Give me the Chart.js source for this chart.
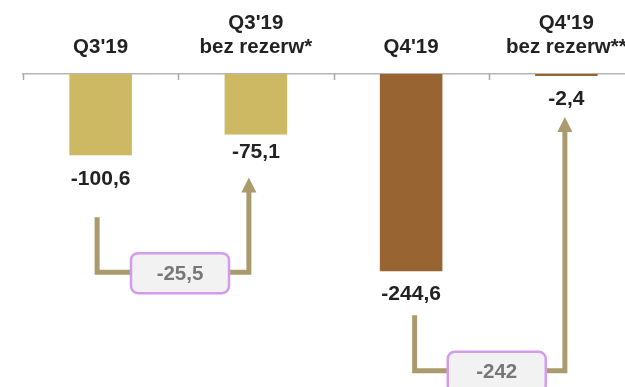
<!DOCTYPE html>
<html>
<head>
<meta charset="utf-8">
<script src="https://cdn.jsdelivr.net/npm/chart.js@4"></script>
<style>
  html, body { margin: 0; padding: 0; overflow: hidden; background: #fff; }
</style>
</head>
<body>
<canvas id="myChart" width="670" height="387"></canvas>
<script>
var labels = [["Q3'19"], ["Q3'19", "bez rezerw*"], ["Q4'19"], ["Q4'19", "bez rezerw**"]];
var values = [-100.6, -75.1, -244.6, -2.4];
var valueText = ["-100,6", "-75,1", "-244,6", "-2,4"];
var barColors = ["#cdb964", "#cdb964", "#986532", "#986532"];

// differences between bars (from -> to)
var bridgeFrom = [0, 2];
var bridgeTo = [1, 3];
var bridgeText = ["-25,5", "-242"];

var FONT = '"Liberation Sans", Arial, Helvetica, sans-serif';

// hand tuned offsets for the connector drawing
var labelGap = [24, 18, 23, 23];
var bridgeStyle = [
  {dx1: -3.5, dx2: -7, start: 62, level: 117, tip: 43},
  {dx1: 3.5, dx2: -1.5, start: 44, level: 99.5, tip: 41}
];

var bridgePlugin = {
  id: 'bridges',
  afterDatasetsDraw: function (chart) {
    var ctx = chart.ctx;
    var area = chart.chartArea;
    var xs = chart.scales.x;
    var meta = chart.getDatasetMeta(0);
    ctx.save();

    // small ticks hanging under the axis
    var half = (xs.getPixelForValue(1) - xs.getPixelForValue(0)) / 2;
    ctx.strokeStyle = "#a8a8a8";
    ctx.lineWidth = 1.5;
    for (var i = 0; i < labels.length; i++) {
      var tx = Math.round(xs.getPixelForValue(i) - half) + 0.5;
      ctx.beginPath();
      ctx.moveTo(tx, area.top);
      ctx.lineTo(tx, area.top + 6);
      ctx.stroke();
    }

    // value labels under bars
    ctx.font = "bold 21px " + FONT;
    ctx.fillStyle = "#222222";
    ctx.textAlign = "center";
    ctx.textBaseline = "middle";
    meta.data.forEach(function (bar, i) {
      ctx.fillText(valueText[i], bar.x, bar.y + labelGap[i]);
    });

    // connectors with arrow + box
    for (var k = 0; k < bridgeFrom.length; k++) {
      var s = bridgeStyle[k];
      var a = meta.data[bridgeFrom[k]];
      var b = meta.data[bridgeTo[k]];
      var x1 = a.x + s.dx1, x2 = b.x + s.dx2;
      var y0 = a.y + s.start, yl = a.y + s.level, yt = b.y + s.tip;

      ctx.strokeStyle = "#a99b6d";
      ctx.fillStyle = "#a99b6d";
      ctx.lineWidth = 5;
      ctx.lineJoin = "miter";
      ctx.lineCap = "butt";
      ctx.beginPath();
      ctx.moveTo(x1, y0);
      ctx.lineTo(x1, yl);
      ctx.lineTo(x2, yl);
      ctx.lineTo(x2, yt + 14);
      ctx.stroke();

      ctx.beginPath();
      ctx.moveTo(x2, yt);
      ctx.lineTo(x2 - 7.5, yt + 15);
      ctx.lineTo(x2 + 7.5, yt + 15);
      ctx.closePath();
      ctx.fill();

      var bw = 98, bh = 40;
      var cx = (x1 + x2) / 2 + 7, cy = yl + 1;
      ctx.beginPath();
      ctx.roundRect(cx - bw / 2, cy - bh / 2, bw, bh, 7);
      ctx.fillStyle = "#f2f2f2";
      ctx.fill();
      ctx.lineWidth = 2.5;
      ctx.strokeStyle = "#d39bec";
      ctx.stroke();

      ctx.font = "bold 20.5px " + FONT;
      ctx.fillStyle = "#777777";
      ctx.fillText(bridgeText[k], cx, cy + 1);
    }
    ctx.restore();
  }
};

var chart = new Chart("myChart", {
  type: "bar",
  data: {
    labels: labels,
    datasets: [
      {
        data: values,
        backgroundColor: barColors,
        borderWidth: 0,
        barPercentage: 0.403,
        categoryPercentage: 1.0
      }
    ]
  },
  options: {
    responsive: false,
    animation: false,
    layout: { padding: { left: 23, right: 26, top: 0, bottom: 0 } },
    plugins: {
      legend: { display: false },
      tooltip: { enabled: false }
    },
    scales: {
      x: {
        position: "top",
        grid: { display: false, drawTicks: false },
        border: { display: true, color: "#b5b5b5", width: 1.5 },
        ticks: {
          color: "#222222",
          padding: 14.5,
          maxRotation: 0,
          autoSkip: false,
          font: { family: FONT, size: 20.5, weight: "bold", lineHeight: 1.17 }
        },
        afterFit: function (scale) { scale.height = 74; }
      },
      y: {
        display: false,
        min: -388,
        max: 0
      }
    }
  },
  plugins: [bridgePlugin]
});
</script>
</body>
</html>
